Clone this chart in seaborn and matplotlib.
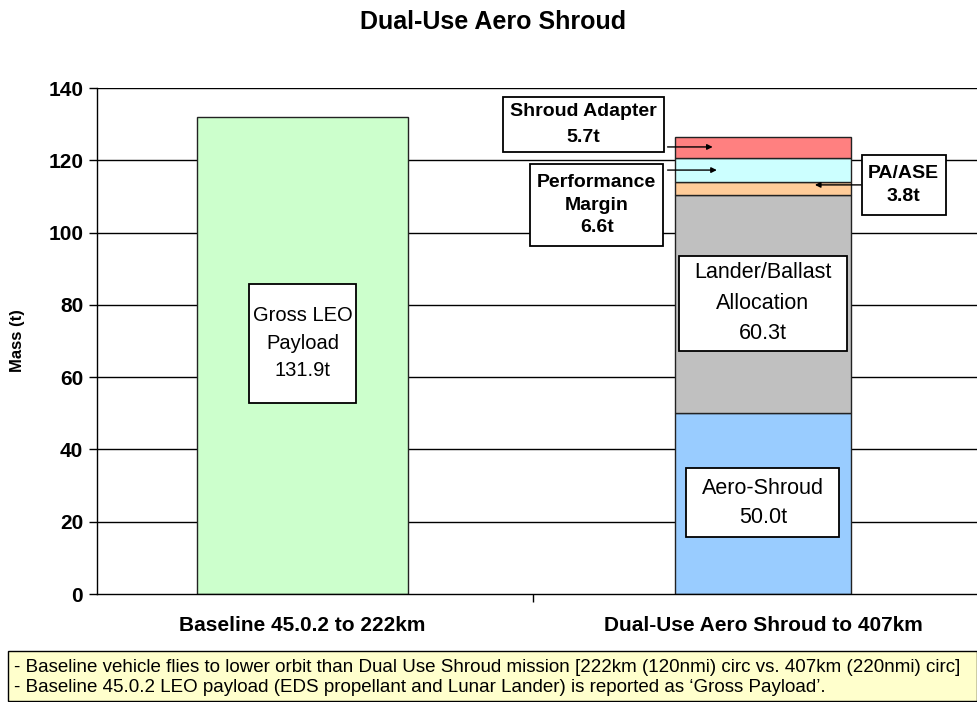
import matplotlib
matplotlib.use("Agg")
import matplotlib.pyplot as plt
from matplotlib.patches import Rectangle
from matplotlib.path import Path
import seaborn as sns

# values
categories = ["Baseline 45.0.2 to 222km", "Dual-Use Aero Shroud to 407km"]
baseline_value = 131.9
stack_labels = ["Aero-Shroud", "Lander/Ballast Allocation", "PA/ASE",
                "Performance Margin", "Shroud Adapter"]
stack_values = [50.0, 60.3, 3.8, 6.6, 5.7]
stack_colors = ["#99CCFF", "#C0C0C0", "#FFCC99", "#CCFFFF", "#FF8080"]
footnotes = [
    "- Baseline vehicle flies to lower orbit than Dual Use Shroud mission [222km (120nmi) circ vs. 407km (220nmi) circ]",
    "- Baseline 45.0.2 LEO payload (EDS propellant and Lunar Lander) is reported as \u2018Gross Payload\u2019.",
]

sns.set_theme(style="white")
plt.rcParams["font.family"] = ["Liberation Sans", "DejaVu Sans"]
for key in ["text.color", "axes.labelcolor", "xtick.color", "ytick.color"]:
    plt.rcParams[key] = "black"


def box_style(padx, pady):
    # rectangular box with separate horizontal / vertical padding
    def style(x0, y0, width, height, mutation_size):
        px, py = padx * mutation_size, pady * mutation_size
        x0, y0 = x0 - px, y0 - py
        x1, y1 = x0 + width + 2 * px, y0 + height + 2 * py
        return Path([(x0, y0), (x1, y0), (x1, y1), (x0, y1), (x0, y0)], closed=True)
    return style


def label_box(padx, pady):
    return dict(boxstyle=box_style(padx, pady), facecolor="white",
                edgecolor="black", lw=1.3)


fig = plt.figure(figsize=(9.77, 7.02), dpi=100)
ax = fig.add_axes([0.0993, 0.1538, 0.9007, 0.7208])

# horizontal grid lines
for yv in range(20, 141, 20):
    ax.axhline(yv, color="black", lw=1, zorder=0)

# baseline bar
sns.barplot(x=[categories[0]], y=[baseline_value], order=categories,
            color="#CCFFCC", saturation=1, width=0.458,
            edgecolor="#222222", linewidth=1, ax=ax, zorder=2)

# stacked dual-use bar
bottom = 0.0
for val, col in zip(stack_values, stack_colors):
    sns.barplot(x=[categories[1]], y=[val], order=categories, bottom=bottom,
                color=col, saturation=1, width=0.382,
                edgecolor="#222222", linewidth=1, ax=ax, zorder=2)
    bottom += val

ax.set_ylim(0, 140)
ax.set_xlim(-0.446, 1.465)
ax.set_yticks(range(0, 141, 20))
ax.set_yticklabels([str(v) for v in range(0, 141, 20)], fontsize=15, fontweight="bold")
ax.tick_params(axis="y", left=True, length=6, width=1, color="black", pad=4)
ax.set_xticks([0, 1])
ax.set_xticklabels(categories, fontsize=15, fontweight="bold")
ax.set_xticks([0.5], minor=True)
ax.tick_params(axis="x", which="major", length=0, pad=16)
ax.tick_params(axis="x", which="minor", bottom=True, length=6, width=1, color="black")
ax.set_xlabel("")
ax.set_ylabel("Mass (t)", fontsize=12, fontweight="bold")
ax.yaxis.set_label_coords(-0.082, 0.5)
for side in ["top", "right"]:
    ax.spines[side].set_visible(False)
for side in ["left", "bottom"]:
    ax.spines[side].set_color("black")
    ax.spines[side].set_linewidth(1)

ax.text(0, 69.4, f"Gross LEO\nPayload\n{baseline_value}t", ha="center", va="center",
        fontsize=14.5, linespacing=1.55, bbox=label_box(0.17, 1.12), zorder=5)
ax.text(1, 80.5, f"Lander/Ballast\nAllocation\n{stack_values[1]}t", ha="center",
        va="center", fontsize=15.5, linespacing=1.6, bbox=label_box(0.7, 0.3), zorder=5)
ax.text(1, 25.3, f"Aero-Shroud\n{stack_values[0]}t", ha="center", va="center",
        fontsize=15.5, linespacing=1.5, bbox=label_box(0.72, 0.45), zorder=5)

arrow = dict(arrowstyle="-|>", color="black", lw=1, mutation_scale=8,
             shrinkA=0, shrinkB=0)

# Shroud adapter callout
ax.text(0.611, 130.0, f"Shroud Adapter\n{stack_values[4]}t", ha="center", va="center",
        fontsize=14, fontweight="bold", linespacing=1.7,
        bbox=label_box(0.36, 0.3), zorder=5)
ax.annotate("", xy=(0.891, 123.7), xytext=(0.793, 123.7), arrowprops=arrow, zorder=6)

# Performance margin callout
ax.text(0.639, 107.6, f"Performance\nMargin\n{stack_values[3]}t", ha="center",
        va="center", fontsize=14, fontweight="bold", linespacing=1.45,
        bbox=label_box(0.36, 0.5), zorder=5)
ax.annotate("", xy=(0.900, 117.3), xytext=(0.793, 117.3), arrowprops=arrow, zorder=6)

# PA/ASE callout
ax.text(1.306, 113.2, f"PA/ASE\n{stack_values[2]}t", ha="center", va="center",
        fontsize=14, fontweight="bold", linespacing=1.5,
        bbox=label_box(0.33, 0.5), zorder=5)
ax.annotate("", xy=(1.113, 113.2), xytext=(1.213, 113.2), arrowprops=arrow, zorder=6)

fig.text(0.5046, 0.9687, "Dual-Use Aero Shroud", ha="center", va="center",
         fontsize=18, fontweight="bold")

# footer note box
fig.patches.append(Rectangle((8 / 977, 0.001), 1 - 8 / 977, 0.0712,
                             transform=fig.transFigure, facecolor="#FFFFCC",
                             edgecolor="black", lw=1))
fig.text(14 / 977, 1 - 667 / 702, footnotes[0], ha="left", va="center", fontsize=13.5)
fig.text(14 / 977, 1 - 688 / 702, footnotes[1], ha="left", va="center", fontsize=13.5)

fig.savefig("out.png", dpi=100)
plt.close(fig)
